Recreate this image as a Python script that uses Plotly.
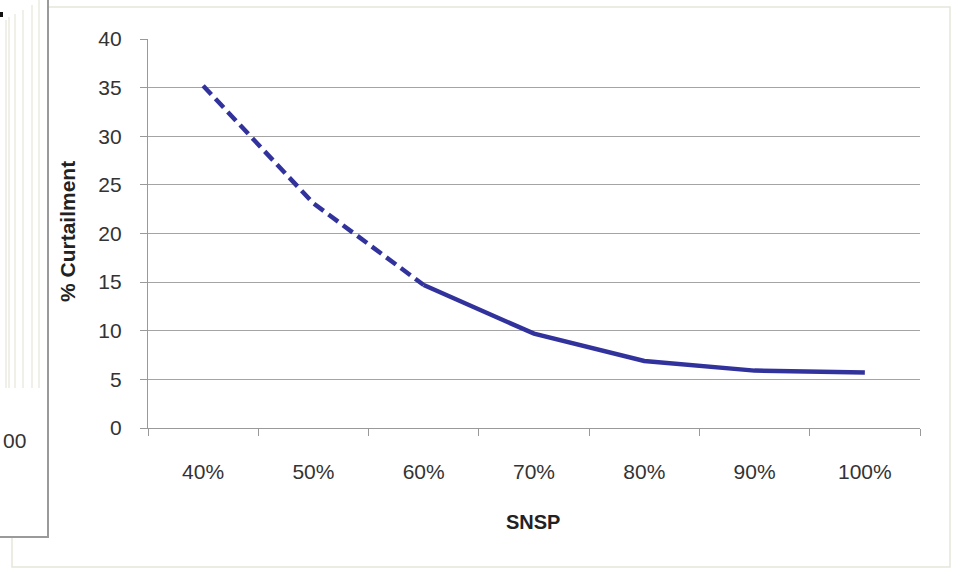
import plotly.graph_objects as go

# SNSP levels and the resulting curtailment (%)
snsp_levels = ["40%", "50%", "60%", "70%", "80%", "90%", "100%"]
curtailment = [35.2, 23.1, 14.7, 9.7, 6.9, 5.9, 5.7]

# first part of the curve (40%-60%) is drawn dashed, the rest solid
dashed_x = snsp_levels[:3]
dashed_y = curtailment[:3]
solid_x = snsp_levels[2:]
solid_y = curtailment[2:]

y_ticks = [0, 5, 10, 15, 20, 25, 30, 35, 40]

W, H = 955, 569
L, R, T, B = 148, 920, 39, 428  # plot area in pixels


def px_x(p):
    return (p - L) / (R - L)


def px_y(p):
    return (B - p) / (B - T)


LINE_COLOR = "#32329c"
GRID = "#a4a4a4"
FONT = "Liberation Sans"

fig = go.Figure()
fig.add_trace(go.Scatter(
    x=dashed_x, y=dashed_y, mode="lines",
    line=dict(color=LINE_COLOR, width=4.5, dash="12px,6px"),
    hoverinfo="x+y", showlegend=False,
))
fig.add_trace(go.Scatter(
    x=solid_x, y=solid_y, mode="lines",
    line=dict(color=LINE_COLOR, width=4.5),
    hoverinfo="x+y", showlegend=False,
))

shapes = []
# outer chart frame
shapes.append(dict(type="rect", xref="paper", yref="paper",
                   x0=px_x(12), x1=px_x(950), y0=px_y(567), y1=px_y(7),
                   line=dict(color="#e6e6da", width=1.5), layer="below"))
# neighbouring panel on the left
shapes.append(dict(type="rect", xref="paper", yref="paper",
                   x0=px_x(-6), x1=px_x(48), y0=px_y(537), y1=px_y(-6),
                   line=dict(color="#9a9a9a", width=2), fillcolor="white",
                   layer="above"))
for gx, gtop in [(6, 20), (9, 17), (15, 14), (23, 10), (32, 5), (39, 0)]:
    shapes.append(dict(type="line", xref="paper", yref="paper",
                       x0=px_x(gx), x1=px_x(gx), y0=px_y(388), y1=px_y(gtop),
                       line=dict(color="#ecebe0", width=1.5), layer="above"))
shapes.append(dict(type="rect", xref="paper", yref="paper",
                   x0=px_x(0), x1=px_x(3), y0=px_y(17), y1=px_y(12),
                   line=dict(width=0), fillcolor="#111111", layer="above"))

annotations = [
    dict(text="00", xref="paper", yref="paper", x=px_x(1), y=px_y(440),
         xanchor="left", yanchor="middle", showarrow=False,
         font=dict(family=FONT, size=21, color="#333333")),
    dict(text="<b>% Curtailment</b>", xref="paper", yref="paper",
         x=px_x(67), y=px_y(232), textangle=-90,
         xanchor="center", yanchor="middle", showarrow=False,
         font=dict(family=FONT, size=21, color="#222222")),
    dict(text="<b>SNSP</b>", xref="paper", yref="paper",
         x=px_x(533), y=px_y(522), xanchor="center", yanchor="middle",
         showarrow=False, font=dict(family=FONT, size=20, color="#222222")),
]

fig.update_layout(
    width=W, height=H,
    margin=dict(l=L, r=W - R, t=T, b=H - B, pad=0),
    paper_bgcolor="white", plot_bgcolor="white",
    font=dict(family=FONT, size=21, color="#333333"),
    shapes=shapes, annotations=annotations,
    showlegend=False,
)
fig.update_xaxes(
    type="category", categoryorder="array", categoryarray=snsp_levels,
    range=[-0.5, 6.5], tickson="boundaries",
    ticks="outside", ticklen=7, tickcolor="#999999", tickwidth=1.3,
    showline=True, linecolor="#999999", linewidth=1.3,
    showgrid=False, ticklabelstandoff=25,
    tickfont=dict(family=FONT, size=21, color="#333333"),
)
fig.update_yaxes(
    range=[0, 40], tickvals=y_ticks,
    ticks="outside", ticklen=7, tickcolor="#999999", tickwidth=1.3,
    showline=True, linecolor="#999999", linewidth=1.3,
    showgrid=True, gridcolor=GRID, gridwidth=1.3, zeroline=False,
    ticklabelstandoff=14,
    tickfont=dict(family=FONT, size=21, color="#333333"),
)

fig.write_html("out.html")
